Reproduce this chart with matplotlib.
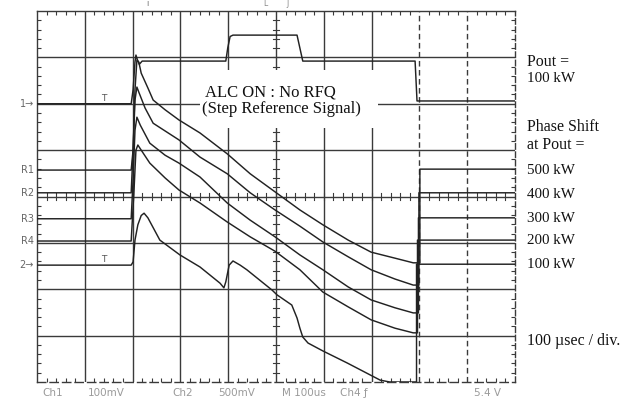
import numpy as np
import matplotlib
matplotlib.use("Agg")
import matplotlib.pyplot as plt
from matplotlib.patches import Rectangle

# ---------------- data (time in microseconds, 100 us/div; level in screen divisions) -------------
time_pout = [0, 197, 201, 205, 207, 210, 214, 220, 395, 399, 404, 410, 544, 550, 556, 791, 795, 1000]
pout = [6.0, 6.0, 6.3, 6.9, 7.05, 6.95, 6.85, 6.92, 6.92, 7.2, 7.45, 7.48, 7.48, 7.2, 6.92, 6.92, 6.06, 6.06]

time_500 = [0, 197, 201, 205, 209, 213, 218, 232, 243, 268, 297, 341, 398, 446, 498, 550, 598, 651, 699,
            749, 787, 801, 801, 1000]
phase_500 = [4.57, 4.57, 5.0, 6.3, 6.94, 6.90, 6.66, 6.34, 6.08, 5.87, 5.65, 5.37, 4.92, 4.49, 4.10, 3.71,
             3.39, 3.06, 2.80, 2.67, 2.57, 2.57, 4.59, 4.59]

time_400 = [0, 197, 201, 205, 209, 213, 226, 243, 297, 341, 398, 446, 498, 550, 598, 651, 699, 749, 787,
            799, 799, 1000]
phase_400 = [4.08, 4.08, 5.0, 6.08, 6.36, 6.25, 5.91, 5.58, 5.22, 4.85, 4.49, 4.08, 3.71, 3.36, 3.02, 2.70,
             2.42, 2.22, 2.09, 2.09, 4.08, 4.08]

time_300 = [0, 197, 201, 205, 209, 216, 236, 268, 297, 341, 398, 446, 498, 550, 598, 651, 699, 749, 787,
            798, 798, 1000]
phase_300 = [3.52, 3.52, 4.36, 5.43, 5.71, 5.54, 5.15, 4.89, 4.72, 4.42, 3.86, 3.49, 3.13, 2.74, 2.42, 2.05,
             1.77, 1.60, 1.49, 1.49, 3.54, 3.54]

time_200 = [0, 197, 203, 207, 211, 218, 236, 268, 297, 341, 398, 446, 498, 550, 598, 651, 699, 749, 787,
            796, 796, 1000]
phase_200 = [3.04, 3.04, 4.14, 5.00, 5.11, 5.00, 4.72, 4.40, 4.14, 3.86, 3.45, 3.13, 2.82, 2.42, 1.94, 1.62,
             1.34, 1.16, 1.06, 1.06, 3.06, 3.06]

time_100 = [0, 197, 201, 205, 211, 218, 224, 232, 257, 299, 341, 383, 391, 395, 402, 410, 425, 439, 492,
            502, 533, 544, 550, 556, 567, 598, 649, 718, 738, 794, 794, 1000]
phase_100 = [2.52, 2.52, 2.59, 3.06, 3.39, 3.59, 3.64, 3.54, 3.06, 2.74, 2.48, 2.13, 2.03, 2.16, 2.52, 2.61,
             2.52, 2.42, 1.98, 1.88, 1.66, 1.38, 1.16, 0.97, 0.84, 0.67, 0.41, 0.04, 0.0, 0.0, 2.54, 2.54]

left_labels = ["1\u2192", "R1", "R2", "R3", "R4", "2\u2192"]
left_levels = [6.0, 4.57, 4.08, 3.52, 3.04, 2.52]

right_labels = ["Pout =", "100 kW", "Phase Shift", "at Pout =", "500 kW", "400 kW", "300 kW",
                "200 kW", "100 kW", "100 \u00b5sec / div."]
right_label_py = [62, 79, 127, 145, 170, 194, 218, 240, 264, 341]

scope_texts = ["Ch1", "100mV", "Ch2", "500mV", "M 100us", "Ch4 \u0192", "5.4 V"]
scope_text_px = [42, 88, 172, 218, 282, 340, 474]

# ---------------- figure ----------------
W, H = 635, 401
fig = plt.figure(figsize=(W / 100, H / 100), dpi=100)
fig.patch.set_facecolor("white")
ax = fig.add_axes([37 / W, 19 / H, 478 / W, 371 / H])
ax.set_xlim(0, 1000)
ax.set_ylim(0, 8)

gc = "#3a3a3a"
tc = "#222222"

# graticule
for gx in range(100, 1000, 100):
    ls = (0, (4, 2.5)) if gx in (800, 900) else "-"
    ax.axvline(gx, color=gc, lw=1.0, ls=ls, zorder=1)
for gy in range(1, 8):
    ax.axhline(gy, color=gc, lw=1.0, zorder=1)

# small ticks on the centre lines
for yy in np.arange(0.2, 8, 0.2):
    ax.plot([494, 506], [yy, yy], color=gc, lw=0.8, zorder=1)
for xx in np.arange(20, 1000, 20):
    ax.plot([xx, xx], [3.93, 4.07], color=gc, lw=0.8, zorder=1)

for s in ax.spines.values():
    s.set_color(gc)
    s.set_linewidth(1.0)
ax.spines["right"].set_linestyle((0, (4, 2)))
ax.spines["bottom"].set_linestyle((0, (6, 3)))
ax.set_xticks(np.arange(0, 1001, 100))
ax.set_yticks(np.arange(0, 9, 1))
ax.set_xticks(np.arange(0, 1001, 20), minor=True)
ax.set_yticks(np.arange(0, 8.01, 0.2), minor=True)
ax.tick_params(which="both", direction="in", top=True, right=True, labelbottom=False, labelleft=False,
               color=gc)
ax.tick_params(which="major", length=0)
ax.tick_params(which="minor", length=3, width=0.8)

# white box behind annotation
ax.add_patch(Rectangle((341, 5.48), 372, 1.25, facecolor="white", edgecolor="none", zorder=2))

# traces
for t, v in [(time_pout, pout), (time_500, phase_500), (time_400, phase_400), (time_300, phase_300),
             (time_200, phase_200), (time_100, phase_100)]:
    ax.plot(t, v, color=tc, lw=1.05, zorder=3, solid_joinstyle="round")

# trigger-level marks
for lvl in (6.0, 2.52):
    ax.text(140, lvl + 0.02, "T", ha="center", va="bottom", fontsize=6.5, color="#555555",
            family="DejaVu Sans", zorder=4)

# annotation
serif = "Liberation Serif"
ax.text(352, 6.25, "ALC ON : No RFQ", fontsize=12, family=serif, va="center", ha="left", color="#111111",
        zorder=4)
ax.text(346, 5.89, "(Step Reference Signal)", fontsize=12, family=serif, va="center",
        ha="left", color="#111111", zorder=4)

# right-hand labels
for lab, py in zip(right_labels, right_label_py):
    size = 10.8 if "kW" in lab else 11.4
    fig.text(527 / W, 1 - py / H, lab, fontsize=size, family=serif, va="center", ha="left", color="#111111")

# left channel markers
for lab, lvl in zip(left_labels, left_levels):
    py = 382 - lvl * 46.375
    fig.text(34 / W, 1 - py / H, lab, fontsize=7, family="DejaVu Sans", va="center", ha="right",
             color="#666666")

# scope readout along the bottom
for lab, px in zip(scope_texts, scope_text_px):
    fig.text(px / W, 1 - 393 / H, lab, fontsize=7.5, family="DejaVu Sans", va="center", ha="left",
             color="#9a9a9a")

# marks above the frame
fig.text(147 / W, 1 - 4 / H, "\u0131", fontsize=6, color="#777777", ha="center", va="center")
fig.text(265 / W, 1 - 4 / H, "L", fontsize=5.5, color="#888888", ha="center", va="center")
fig.text(288 / W, 1 - 4 / H, "J", fontsize=5.5, color="#888888", ha="center", va="center")

fig.savefig("out.png", dpi=100, facecolor="white")
